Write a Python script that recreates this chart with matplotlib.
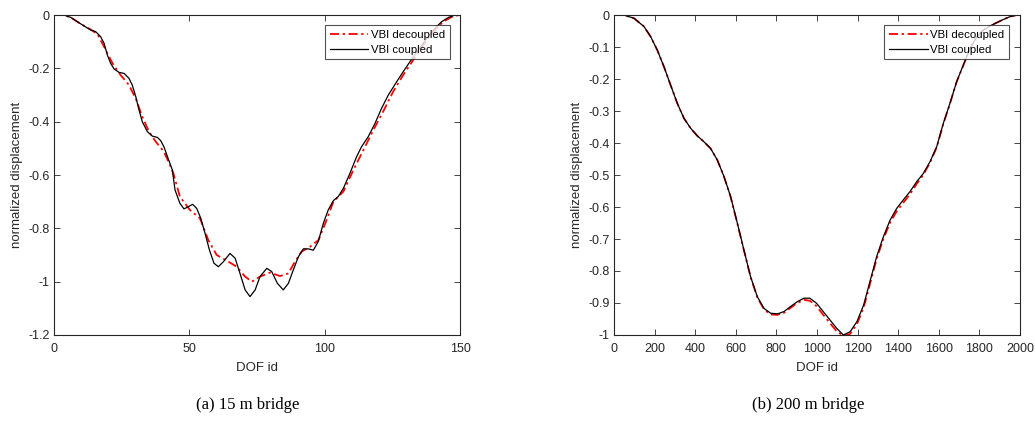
import matplotlib.pyplot as plt

plt.rcParams['font.family'] = ['Liberation Sans', 'DejaVu Sans']

# (a) 15 m bridge
x15_cpl = [0, 3.7, 6.2, 8.6, 11.1, 13.5, 15.4, 17.2, 18.5, 19.7, 20.9, 22.2, 24.0, 25.9, 27.7,
           28.9, 30.2, 31.4, 32.6, 34.5, 36.3, 38.2, 39.4, 40.6, 41.9, 43.7, 44.7, 46.5, 48.0,
           49.6, 51.2, 52.7, 54.2, 55.8, 57.4, 59.1, 60.7, 62.6, 65.0, 66.9, 68.7, 70.6, 72.4,
           74.3, 76.1, 78.6, 80.4, 82.5, 84.7, 86.6, 88.4, 90.3, 92.1, 94.0, 95.8, 97.6, 99.5,
           101.3, 103.2, 105.0, 106.9, 109.3, 111.8, 113.6, 116.1, 118.6, 121.0, 123.5, 126.6,
           129.0, 131.5, 134.6, 137.7, 140.7, 143.2, 145.7, 148.1, 150]
y15_cpl = [0, 0, -0.009, -0.025, -0.041, -0.056, -0.0625, -0.081, -0.106, -0.15, -0.181, -0.2025,
           -0.215, -0.219, -0.2375, -0.2625, -0.306, -0.356, -0.4, -0.4375, -0.454, -0.459,
           -0.471, -0.494, -0.531, -0.581, -0.656, -0.706, -0.727, -0.719, -0.71, -0.725,
           -0.762, -0.819, -0.881, -0.931, -0.944, -0.925, -0.894, -0.912, -0.969, -1.031,
           -1.056, -1.031, -0.981, -0.95, -0.962, -1.006, -1.031, -1.006, -0.956, -0.906,
           -0.877, -0.877, -0.882, -0.85, -0.781, -0.731, -0.696, -0.681, -0.65, -0.594,
           -0.531, -0.494, -0.456, -0.406, -0.35, -0.3, -0.25, -0.2125, -0.175, -0.131,
           -0.0875, -0.05, -0.025, -0.009, 0, 0]
x15_dec = [0, 3.7, 6.2, 8.6, 11.1, 13.5, 16.0, 18.5, 21.6, 24.6, 27.7, 30.2, 32.6, 35.1, 37.6,
           40.6, 43.1, 44.1, 46.5, 50.2, 53.9, 57.0, 60.1, 63.8, 67.5, 70.6, 73.1, 76.1, 79.8,
           83.5, 86.6, 89.0, 91.5, 94.6, 97.7, 100.7, 103.2, 106.9, 110.6, 114.3, 118.0, 121.6,
           125.3, 129.0, 132.7, 136.4, 140.1, 143.8, 147.5, 150]
y15_dec = [0, 0, -0.009, -0.025, -0.041, -0.054, -0.071, -0.119, -0.181, -0.225, -0.2625,
           -0.313, -0.381, -0.4375, -0.475, -0.5125, -0.569, -0.594, -0.681, -0.731, -0.762,
           -0.844, -0.9, -0.921, -0.944, -0.981, -1.0, -0.981, -0.966, -0.979, -0.969, -0.925,
           -0.887, -0.869, -0.844, -0.769, -0.7, -0.662, -0.581, -0.506, -0.431, -0.362,
           -0.287, -0.225, -0.169, -0.1125, -0.0625, -0.025, -0.004, 0]

# (b) 200 m bridge
x200 = [0, 49, 98.5, 148, 181, 213, 246, 279, 312, 345, 378, 411, 443, 476, 509, 542, 575,
        608, 640, 673, 706, 739, 772, 805, 837, 870, 903, 936, 965, 998, 1031, 1064, 1097,
        1130, 1163, 1197, 1230, 1263, 1294, 1327, 1360, 1393, 1425, 1458, 1491, 1524, 1557,
        1590, 1622, 1655, 1688, 1721, 1754, 1787, 1820, 1852, 1885, 1918, 1951, 1984, 2000]
y200_cpl = [0, 0, -0.01, -0.036, -0.068, -0.109, -0.161, -0.219, -0.276, -0.323, -0.354,
            -0.378, -0.396, -0.417, -0.453, -0.505, -0.568, -0.651, -0.734, -0.818, -0.88,
            -0.917, -0.932, -0.934, -0.927, -0.911, -0.896, -0.885, -0.885, -0.901, -0.927,
            -0.953, -0.979, -1.0, -0.99, -0.958, -0.906, -0.828, -0.755, -0.693, -0.641,
            -0.604, -0.578, -0.552, -0.521, -0.495, -0.458, -0.411, -0.339, -0.276, -0.208,
            -0.156, -0.104, -0.068, -0.047, -0.034, -0.024, -0.014, -0.005, 0, 0]
y200_dec = [0, 0, -0.01, -0.036, -0.068, -0.109, -0.161, -0.219, -0.276, -0.323, -0.354,
            -0.378, -0.396, -0.417, -0.453, -0.505, -0.569, -0.652, -0.735, -0.819, -0.882,
            -0.92, -0.936, -0.937, -0.931, -0.915, -0.9, -0.89, -0.893, -0.91, -0.937,
            -0.963, -0.988, -1.003, -0.997, -0.966, -0.914, -0.836, -0.762, -0.7, -0.649,
            -0.613, -0.587, -0.56, -0.528, -0.499, -0.461, -0.413, -0.341, -0.277, -0.209,
            -0.157, -0.105, -0.068, -0.047, -0.034, -0.024, -0.014, -0.005, 0, 0]

fig = plt.figure(figsize=(10.35, 4.21), dpi=100)
ax1 = fig.add_axes([0.0522, 0.2043, 0.3923, 0.760])
ax2 = fig.add_axes([0.5932, 0.2043, 0.3923, 0.760])

dashdot = (0, (5, 2, 1.3, 2))

def style(ax, anchor):
    ax.tick_params(direction='in', top=True, right=True, labelsize=9, colors='#262626',
                   length=4, width=0.6)
    ax.tick_params(axis='x', pad=5.5)
    ax.tick_params(axis='y', pad=3)
    for s in ax.spines.values():
        s.set_color('#262626')
        s.set_linewidth(0.8)
    ax.set_xlabel('DOF id', fontsize=9.5, color='#262626', labelpad=5)
    ax.set_ylabel('normalized displacement', fontsize=9.5, color='#262626', labelpad=4)
    leg = ax.legend(loc='upper right', fontsize=8.2, frameon=True, fancybox=False,
                    borderpad=0.4, handlelength=3.4, handletextpad=0.25, labelspacing=0.45,
                    borderaxespad=0, bbox_to_anchor=anchor)
    leg.get_frame().set_edgecolor('#262626')
    leg.get_frame().set_linewidth(0.8)

ax1.plot(x15_dec, y15_dec, color='red', ls=dashdot, lw=1.3, label='VBI decoupled')
ax1.plot(x15_cpl, y15_cpl, 'k-', lw=0.9, label='VBI coupled')
ax1.set_xlim(0, 150)
ax1.set_ylim(-1.2, 0)
ax1.set_xticks([0, 50, 100, 150])
ax1.set_yticks([0, -0.2, -0.4, -0.6, -0.8, -1.0, -1.2])
ax1.set_yticklabels(['0', '-0.2', '-0.4', '-0.6', '-0.8', '-1', '-1.2'])
style(ax1, (0.975, 0.969))

ax2.plot(x200, y200_dec, color='red', ls=dashdot, lw=1.3, label='VBI decoupled')
ax2.plot(x200, y200_cpl, 'k-', lw=0.9, label='VBI coupled')
ax2.set_xlim(0, 2000)
ax2.set_ylim(-1, 0)
ax2.set_xticks(range(0, 2001, 200))
ax2.set_yticks([0, -0.1, -0.2, -0.3, -0.4, -0.5, -0.6, -0.7, -0.8, -0.9, -1.0])
ax2.set_yticklabels(['0', '-0.1', '-0.2', '-0.3', '-0.4', '-0.5', '-0.6', '-0.7', '-0.8',
                     '-0.9', '-1'])
style(ax2, (0.973, 0.969))

fig.text(0.2396, 0.038, '(a) 15 m bridge', ha='center', va='center', fontsize=12,
         family='Liberation Serif')
fig.text(0.7807, 0.038, '(b) 200 m bridge', ha='center', va='center', fontsize=12,
         family='Liberation Serif')

fig.savefig('out.png', dpi=100)
